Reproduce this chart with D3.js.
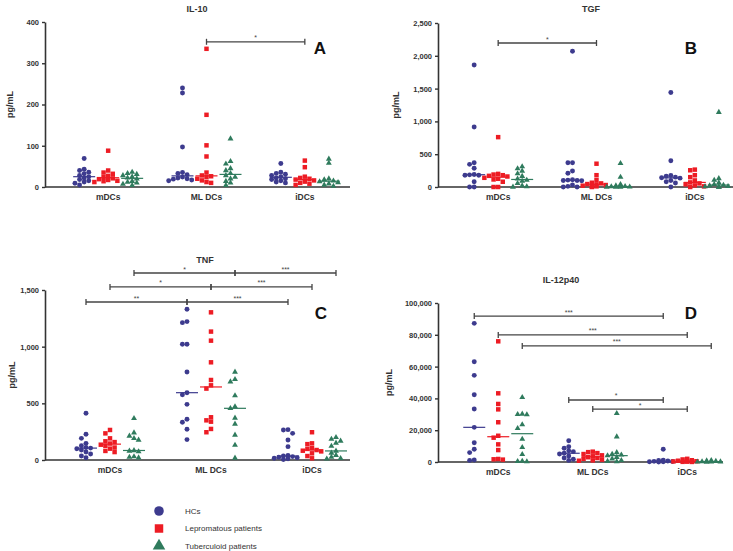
<!DOCTYPE html>
<html>
<head>
<meta charset="utf-8">
<script src="https://cdn.jsdelivr.net/npm/d3@7"></script>
<style>
body { margin: 0; background: #fff; }
svg { display: block; font-family: "Liberation Sans", Arial, sans-serif; }
</style>
</head>
<body>
<script>
"use strict";

var width = 733;
var height = 551;

// categories
var groups = ["mDCs", "ML DCs", "iDCs"];
var series = ["HCs", "Lepromatous patients", "Tuberculoid patients"];
var colors = ["#3d3b8e", "#ed1c24", "#2f7b5d"];

// IL-10 (pg/mL), one list per group
var il10HCs = [
  [69, 43, 40, 36, 32, 28, 25, 22, 18, 15, 12, 9, 5],
  [240, 228, 97, 35, 33, 30, 24, 22, 20, 19, 17, 15],
  [57, 36, 33, 31, 28, 25, 22, 20, 18, 15, 12, 10]
];
var il10LL = [
  [88, 40, 35, 32, 27, 24, 21, 19, 17, 15, 14, 12],
  [335, 175, 101, 74, 35, 28, 26, 24, 20, 16, 12, 10],
  [64, 48, 25, 22, 20, 18, 16, 13, 10, 8, 5]
];
var il10TT = [
  [36, 33, 31, 28, 25, 22, 20, 14, 12, 10, 7, 4],
  [117, 62, 56, 45, 40, 33, 28, 24, 20, 14, 10, 4],
  [68, 58, 20, 18, 15, 13, 11, 8, 5, 2]
];

// TGF
var tgfHCs = [
  [1860, 915, 370, 345, 285, 190, 185, 180, 180, 80, 0, 0],
  [2070, 370, 370, 245, 210, 110, 105, 100, 100, 95, 30, 10, 0, 0],
  [1440, 400, 175, 165, 150, 140, 135, 100, 80, 60, 0]
];
var tgfLL = [
  [760, 200, 190, 180, 170, 160, 140, 125, 115, 80, 0, 0],
  [355, 180, 105, 65, 55, 45, 40, 30, 20, 10, 5, 0],
  [265, 255, 180, 150, 100, 70, 55, 40, 25, 10, 0]
];
var tgfTT = [
  [310, 280, 245, 205, 165, 125, 105, 90, 55, 20, 5, 0],
  [360, 150, 40, 20, 10, 5, 3, 0, 0, 0],
  [1140, 130, 105, 65, 40, 30, 20, 10, 5, 0, 0]
];

// TNF
var tnfHCs = [
  [412, 227, 191, 147, 126, 110, 105, 100, 88, 70, 53, 35, 20],
  [1330, 1221, 1212, 1021, 1021, 777, 594, 576, 491, 359, 333, 271, 180],
  [268, 265, 235, 177, 118, 40, 35, 30, 25, 20, 15, 10, 5]
];
var tnfLL = [
  [265, 235, 191, 165, 158, 145, 135, 125, 110, 100, 80, 70],
  [1303, 1133, 1053, 862, 706, 659, 630, 377, 350, 338, 274, 245],
  [245, 147, 140, 105, 98, 88, 82, 76, 59, 35, 15]
];
var tnfTT = [
  [368, 241, 212, 191, 177, 84, 80, 74, 30, 25, 20],
  [777, 712, 691, 568, 471, 456, 371, 318, 221, 132, 18],
  [200, 185, 168, 150, 122, 80, 62, 42, 25, 15, 10]
];

// IL-12p40
var il12HCs = [
  [87200, 63100, 54500, 42300, 33300, 21800, 12100, 8000, 5900, 1300, 1000],
  [13400, 9600, 8600, 7000, 6500, 5500, 5000, 3800, 2500, 1700, 1000],
  [8000, 1200, 900, 600, 400, 300, 200, 100, 50]
];
var il12LL = [
  [75900, 43200, 36500, 33100, 25000, 16500, 15300, 11100, 7500, 1900, 1700, 1500],
  [6500, 6200, 5600, 5000, 4200, 3600, 3000, 2500, 2000, 1500, 1000, 800],
  [2000, 1600, 1100, 800, 500, 350, 200, 100, 50]
];
var il12TT = [
  [40700, 30200, 30000, 29800, 23500, 21200, 14400, 9200, 4800, 600, 400, 300],
  [30600, 15900, 6000, 5000, 4500, 4000, 3000, 2000, 1000, 500, 300],
  [1000, 800, 500, 300, 200, 100, 50, 20]
];

// tick labels
var il10Ticks = [0, 100, 200, 300, 400];
var tgfTicks = [0, 500, 1000, 1500, 2000, 2500];
var tnfTicks = [0, 500, 1000, 1500];
var il12Ticks = [0, 20000, 40000, 60000, 80000, 100000];

// significance: [group from, group to, series index, level, label]
var il10Sig = [["ML DCs", "iDCs", 1, 352, "*"]];
var tgfSig = [["mDCs", "ML DCs", 1, 2195, "*"]];
var tnfSig = [
  ["mDCs", "ML DCs", 2, 1650, "*"], ["ML DCs", "iDCs", 2, 1650, "***"],
  ["mDCs", "ML DCs", 1, 1527, "*"], ["ML DCs", "iDCs", 1, 1527, "***"],
  ["mDCs", "ML DCs", 0, 1394, "**"], ["ML DCs", "iDCs", 0, 1394, "***"]
];
var il12Sig = [
  ["mDCs", "iDCs", 0, 91800, "***"],
  ["mDCs", "iDCs", 1, 79900, "***"],
  ["mDCs", "iDCs", 2, 73000, "***"],
  ["ML DCs", "iDCs", 0, 39000, "*"],
  ["ML DCs", "iDCs", 1, 33300, "*"]
];

var panels = [
  {title: "IL-10", letter: "A", data: [il10HCs, il10LL, il10TT], ticks: il10Ticks, sig: il10Sig,
   left: 45, right: 350, top: 22, bottom: 187, band: [59, 354], titleX: 197, titleY: 12,
   letterX: 320, letterY: 54, labelX: 10},
  {title: "TGF", letter: "B", data: [tgfHCs, tgfLL, tgfTT], ticks: tgfTicks, sig: tgfSig,
   left: 438, right: 733, top: 23, bottom: 187, band: [449, 744], titleX: 591, titleY: 12,
   letterX: 691, letterY: 54, labelX: 396},
  {title: "TNF", letter: "C", data: [tnfHCs, tnfLL, tnfTT], ticks: tnfTicks, sig: tnfSig,
   left: 45, right: 350, top: 290, bottom: 460, band: [59.5, 362.5], titleX: 205, titleY: 263,
   letterX: 321, letterY: 319, labelX: 12},
  {title: "IL-12p40", letter: "D", data: [il12HCs, il12LL, il12TT], ticks: il12Ticks, sig: il12Sig,
   left: 438, right: 723, top: 303, bottom: 462, band: [451, 734.5], titleX: 561, titleY: 283,
   letterX: 691, letterY: 319, labelX: 389}
];

var symbols = [d3.symbolCircle, d3.symbolSquare, d3.symbolTriangle];
var markSize = [19, 20, 15];
var axisColor = "#333";

var svg = d3.select("body").append("svg")
  .attr("width", width)
  .attr("height", height);

// spread points of one column (beeswarm), kept within a few slots
function swarm(vals, y) {
  var d = 4.6, maxK = 5;
  var placed = [];
  vals.slice().sort(function(a, b) { return b - a; }).forEach(function(v) {
    var py = y(v);
    var best = 0, bestHits = Infinity;
    for (var k = 0; k <= maxK; k++) {
      var ox = (k === 0) ? 0 : (k % 2 ? -1 : 1) * Math.ceil(k / 2) * d;
      var hits = placed.filter(function(p) {
        var dx = p.ox - ox, dy = p.py - py;
        return dx * dx + dy * dy < d * d * 0.8;
      }).length;
      if (hits < bestHits) { bestHits = hits; best = ox; }
      if (hits === 0) break;
    }
    placed.push({v: v, py: py, ox: best});
  });
  return placed;
}

function drawPanel(p) {
  var max = p.ticks[p.ticks.length - 1];
  var y = d3.scaleLinear().domain([0, max]).range([p.bottom, p.top]);
  var xg = d3.scaleBand().domain(groups).range(p.band);
  var xs = d3.scalePoint().domain(series).range([-24, 24]);
  var colX = function(gi, si) { return xg(groups[gi]) + xg.bandwidth() / 2 + xs(series[si]); };

  var g = svg.append("g");

  // y axis
  var ya = g.append("g")
    .attr("transform", "translate(" + p.left + ",0)")
    .call(d3.axisLeft(y).tickValues(p.ticks).tickFormat(d3.format(",")).tickSize(3).tickSizeOuter(0));
  ya.select(".domain").attr("stroke", axisColor).attr("stroke-width", 1.6);
  ya.selectAll(".tick line").attr("stroke", axisColor).attr("stroke-width", 1.4);
  ya.selectAll(".tick text")
    .attr("fill", "#333").attr("font-size", 7.5).attr("font-weight", "bold")
    .attr("font-family", "Liberation Sans, Arial, sans-serif");

  // x axis
  var xa = g.append("g")
    .attr("transform", "translate(0," + p.bottom + ")")
    .call(d3.axisBottom(xg).tickSize(0).tickPadding(7));
  xa.select(".domain").remove();
  xa.selectAll(".tick text")
    .attr("fill", "#333").attr("font-size", 8.5).attr("font-weight", "bold")
    .attr("font-family", "Liberation Sans, Arial, sans-serif");
  g.append("line")
    .attr("x1", p.left).attr("x2", p.right)
    .attr("y1", p.bottom).attr("y2", p.bottom)
    .attr("stroke", axisColor).attr("stroke-width", 1.6);

  // y label
  g.append("text")
    .attr("transform", "translate(" + p.labelX + "," + ((p.top + p.bottom) / 2) + ") rotate(-90)")
    .attr("text-anchor", "middle").attr("dy", "0.35em")
    .attr("font-size", 9).attr("font-weight", "bold").attr("fill", "#333")
    .text("pg/mL");

  // title and letter
  g.append("text")
    .attr("x", p.titleX).attr("y", p.titleY)
    .attr("text-anchor", "middle").attr("font-size", 9).attr("font-weight", "bold").attr("fill", "#333")
    .text(p.title);
  g.append("text")
    .attr("x", p.letterX).attr("y", p.letterY)
    .attr("text-anchor", "middle").attr("font-size", 17).attr("font-weight", "bold").attr("fill", "#111")
    .text(p.letter);

  // points and medians
  p.data.forEach(function(ser, si) {
    ser.forEach(function(vals, gi) {
      var cx = colX(gi, si);
      var pts = swarm(vals, y);
      g.append("g").selectAll("path")
        .data(pts).enter().append("path")
        .attr("d", d3.symbol().type(symbols[si]).size(markSize[si]))
        .attr("transform", function(d) { return "translate(" + (cx + d.ox) + "," + d.py + ")"; })
        .attr("fill", colors[si]);
      var med = d3.median(vals);
      g.append("line")
        .attr("x1", cx - 11).attr("x2", cx + 11)
        .attr("y1", y(med)).attr("y2", y(med))
        .attr("stroke", colors[si]).attr("stroke-width", 1.2);
    });
  });

  // significance brackets
  var sg = g.selectAll(".sig").data(p.sig).enter().append("g");
  sg.each(function(s) {
    var x1 = colX(groups.indexOf(s[0]), s[2]);
    var x2 = colX(groups.indexOf(s[1]), s[2]);
    var yy = y(s[3]);
    var el = d3.select(this);
    el.append("line").attr("x1", x1).attr("x2", x2).attr("y1", yy).attr("y2", yy);
    el.append("line").attr("x1", x1).attr("x2", x1).attr("y1", yy - 3).attr("y2", yy + 3);
    el.append("line").attr("x1", x2).attr("x2", x2).attr("y1", yy - 3).attr("y2", yy + 3);
    el.selectAll("line").attr("stroke", "#444").attr("stroke-width", 1.3);
    el.append("text")
      .attr("x", (x1 + x2) / 2).attr("y", yy - 1.5)
      .attr("text-anchor", "middle").attr("font-size", 7).attr("fill", "#444")
      .text(s[4]);
  });
}

panels.forEach(drawPanel);

// legend
var legendY = d3.scalePoint().domain(series).range([511, 546]);
var lg = svg.append("g").selectAll("g")
  .data(series).enter().append("g")
  .attr("transform", function(d) { return "translate(159," + legendY(d) + ")"; });
lg.append("path")
  .attr("d", function(d, i) { return d3.symbol().type(symbols[i]).size(i === 2 ? 68 : 72)(); })
  .attr("fill", function(d, i) { return colors[i]; });
lg.append("text")
  .attr("x", 26).attr("dy", "0.35em")
  .attr("font-size", 8).attr("fill", "#333")
  .text(function(d) { return d; });
</script>
</body>
</html>
